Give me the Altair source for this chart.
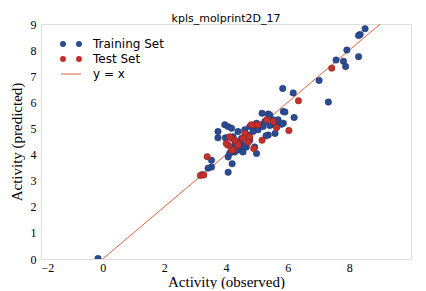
import altair as alt
import pandas as pd

# Training set (observed, predicted)
train_obs = [-0.15, 8.51, 8.35, 8.3, 7.92, 8.3, 7.57, 7.81, 7.88, 7.02, 7.32, 5.84, 6.18,
             5.86, 5.91, 6.21, 5.17, 5.37, 5.42, 5.59, 5.86, 5.69, 5.37, 5.59,
             3.96, 4.07, 3.74, 3.74, 3.98, 4.18, 4.23, 4.28, 4.39, 4.5, 4.61, 4.72, 4.77,
             4.93, 4.99, 5.04, 5.1, 5.2, 5.26, 5.42, 5.53, 5.8, 4.93, 4.66, 4.45, 4.99,
             4.07, 4.2, 4.07, 3.53, 3.53, 3.42, 3.23, 4.28, 4.39, 4.18, 4.55, 4.5, 4.34,
             4.88, 4.77, 5.64, 4.12, 4.6, 5.3]
train_pred = [0.02, 8.82, 8.6, 8.56, 8.0, 7.75, 7.62, 7.57, 7.37, 6.84, 6.01, 6.53, 6.36,
              5.65, 5.63, 5.42, 5.58, 5.55, 5.52, 5.14, 5.2, 5.33, 4.75, 4.81,
              5.14, 5.07, 4.88, 4.64, 4.64, 5.01, 4.68, 4.36, 4.88, 4.62, 4.95, 4.75, 5.07,
              5.01, 5.2, 4.95, 5.14, 5.07, 5.27, 5.11, 5.33, 5.16, 4.29, 4.29, 4.29, 4.04,
              3.91, 3.65, 3.32, 3.78, 3.52, 3.48, 3.23, 4.1, 4.17, 4.1, 4.1, 4.42, 4.49,
              4.88, 4.55, 5.07, 4.05, 4.3, 4.72]

# Test set (observed, predicted)
test_obs = [3.17, 3.28, 3.39, 7.43, 6.35, 6.04, 5.17, 5.64, 5.53, 5.32, 4.93, 5.04,
            4.82, 4.9, 4.77, 4.61, 4.55, 4.39, 4.28, 4.18, 4.07, 4.01, 4.18, 4.23,
            4.39, 4.12, 4.72]
test_pred = [3.2, 3.22, 3.92, 7.31, 6.06, 4.92, 4.55, 5.03, 5.27, 5.33, 5.14, 5.14,
             5.14, 4.23, 4.68, 4.81, 4.62, 4.42, 4.55, 4.62, 4.36, 4.42, 4.17, 4.17,
             4.36, 4.68, 4.47]

line_x = [-2, 10]

x_ticks = [-2, 0, 2, 4, 6, 8]
y_ticks = [0, 1, 2, 3, 4, 5, 6, 7, 8, 9]

legend_labels = ["Training Set", "Test Set", "y = x"]

BLUE = "#2c4a90"
RED = "#c4302c"
LINE = "#e0603c"

train = pd.DataFrame({"obs": train_obs, "pred": train_pred})
test = pd.DataFrame({"obs": test_obs, "pred": test_pred})
line = pd.DataFrame({"obs": line_x, "pred": line_x})

xscale = alt.Scale(domain=[-2, 10], nice=False, zero=False)
yscale = alt.Scale(domain=[0, 9], nice=False, zero=False)

xaxis = alt.Axis(values=x_ticks, grid=False, ticks=False, domain=False,
                 labelOverlap=False,
                 labelFont="Liberation Serif", labelFontSize=12, labelColor="black",
                 labelPadding=3, title="Activity (observed)", titleFont="Liberation Serif",
                 titleFontSize=15, titleFontWeight="normal", titleColor="black", titlePadding=1)
yaxis = alt.Axis(values=y_ticks, grid=False, ticks=False, domain=False,
                 labelOverlap=False,
                 labelFont="Liberation Serif", labelFontSize=12, labelColor="black",
                 labelPadding=5, title="Activity (predicted)", titleFont="Liberation Serif",
                 titleFontSize=15, titleFontWeight="normal", titleColor="black", titlePadding=6)

X = alt.X("obs:Q", scale=xscale, axis=xaxis)
Y = alt.Y("pred:Q", scale=yscale, axis=yaxis)

line_layer = alt.Chart(line).mark_line(color=LINE, strokeWidth=1, clip=True).encode(x=X, y=Y)

train_layer = alt.Chart(train).mark_point(filled=True, size=42, color=BLUE, opacity=1,
                                          stroke="#1f3570", strokeWidth=0.5, clip=True).encode(x=X, y=Y)

test_layer = alt.Chart(test).mark_point(filled=True, size=42, color=RED, opacity=1,
                                        stroke="#8a2020", strokeWidth=0.5, clip=True).encode(x=X, y=Y)

# manual legend (matplotlib-style, two markers per entry)
leg = []
ys = [20, 35, 50]
for i, (lab, col) in enumerate(zip(legend_labels, [BLUE, RED, LINE])):
    leg.append(alt.Chart(pd.DataFrame({"t": [lab]})).mark_text(
        align="left", baseline="middle", font="DejaVu Sans", fontSize=12, color="black",
        x=52, y=ys[i]).encode(text="t:N"))
    if i < 2:
        for xx in [22, 38]:
            leg.append(alt.Chart(pd.DataFrame({"t": [lab]})).mark_point(
                filled=True, size=36, color=col, opacity=1, x=xx, y=ys[i]).encode(
                detail="t:N"))
    else:
        leg.append(alt.Chart(pd.DataFrame({"t": [lab]})).mark_rule(
            color=col, strokeWidth=1).encode(
            x=alt.value(20), x2=alt.value(40), y=alt.value(ys[i])))

chart = alt.layer(line_layer, train_layer, test_layer, *leg).properties(
    width=370, height=235,
    title=alt.TitleParams("kpls_molprint2D_17", font="DejaVu Sans", fontSize=11,
                          fontWeight="normal", color="black", offset=-6),
    autosize=alt.AutoSizeParams(type="none"),
    padding={"left": 33, "top": 16, "right": 7, "bottom": 30},
).configure_view(stroke="black", strokeWidth=1).configure(background="white")

chart.save("out.html", embed_options={"renderer": "svg", "actions": False})
